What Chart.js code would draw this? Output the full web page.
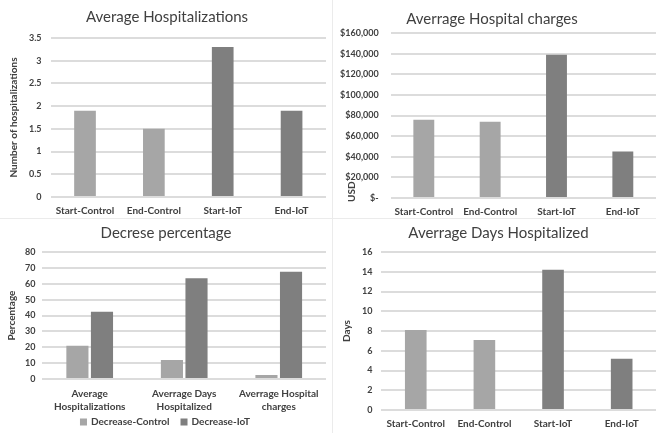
<!DOCTYPE html>
<html>
<head>
<meta charset="utf-8">
<script src="https://cdn.jsdelivr.net/npm/chart.js@4.4.1/dist/chart.umd.min.js"></script>
<style>
    html, body { margin: 0; padding: 0; background: #fff; }
    body { width: 656px; height: 433px; position: relative; overflow: hidden; }
    .panel { position: absolute; }
    .panel canvas { display: block; }
    .line-v { position: absolute; left: 332px; top: 0; width: 1px; height: 433px; background: #ebebeb; }
    .line-h { position: absolute; left: 0; top: 218px; width: 656px; height: 1px; background: #ebebeb; }
</style>
</head>
<body>
<div class="line-v"></div>
<div class="line-h"></div>
<div class="panel" style="left:0;top:0;width:330px;height:217px"><canvas id="hospChart"></canvas></div>
<div class="panel" style="left:333px;top:0;width:323px;height:217px"><canvas id="chargeChart"></canvas></div>
<div class="panel" style="left:0;top:220px;width:330px;height:213px"><canvas id="pctChart"></canvas></div>
<div class="panel" style="left:333px;top:220px;width:323px;height:213px"><canvas id="daysChart"></canvas></div>

<script>
// === DATA ===
const phases = ["Start-Control", "End-Control", "Start-IoT", "End-IoT"];
const avgHospitalizations = [1.9, 1.5, 3.3, 1.9];
const avgCharges = [76000, 74000, 139000, 45000];
const avgDays = [8.1, 7.1, 14.2, 5.2];

const pctCategories = [
    ["Average", "Hospitalizations"],
    ["Averrage Days", "Hospitalized"],
    ["Averrage Hospital", "charges"]
];
const decreaseControl = [21, 12, 2.5];
const decreaseIoT = [42.4, 63.4, 67.6];

const chargeTicks = ["$-", "$20,000", "$40,000", "$60,000", "$80,000", "$100,000", "$120,000", "$140,000", "$160,000"];

// === STYLE ===
const LIGHT = "#a6a6a6";
const DARK = "#7f7f7f";
const TEXT = "#404040";
const GRID = "#dcdcdc";
const FONT = "Lato, 'Open Sans', sans-serif";
const phaseColors = [LIGHT, LIGHT, DARK, DARK];

Chart.defaults.font.family = FONT;
Chart.defaults.color = TEXT;
Chart.defaults.animation = false;

function baseOptions(title, yTitle, yMax, yStep, padding) {
    return {
        responsive: true,
        maintainAspectRatio: false,
        layout: { padding: padding },
        plugins: {
            legend: { display: false },
            tooltip: { enabled: false },
            title: {
                display: true,
                text: title,
                color: TEXT,
                font: { size: 15, weight: "normal" },
                padding: { top: 8, bottom: 12 },
            },
        },
        scales: {
            x: {
                grid: { display: false, drawTicks: false },
                border: { display: false },
                ticks: { color: TEXT, font: { size: 10, weight: "bold" }, padding: 8, maxRotation: 0, autoSkip: false },
            },
            y: {
                min: 0,
                max: yMax,
                border: { display: false },
                grid: { color: GRID, lineWidth: 2, drawTicks: false },
                ticks: {
                    stepSize: yStep,
                    autoSkip: false,
                    color: TEXT,
                    font: { size: 9, weight: "bold" },
                    padding: 12,
                    callback: (val) => String(val),
                },
                title: {
                    display: true,
                    text: yTitle,
                    color: TEXT,
                    font: { size: 10, weight: "bold" },
                    padding: { top: 0, bottom: 0 },
                },
            },
        },
    };
}

// "USD" sits low on the axis, next to the zero label
const usdLabel = {
    id: "usdLabel",
    afterDraw(chart) {
        const { ctx, chartArea } = chart;
        ctx.save();
        ctx.translate(chartArea.left - 39, chartArea.bottom + 4);
        ctx.rotate(-Math.PI / 2);
        ctx.fillStyle = TEXT;
        ctx.font = "bold 10px " + FONT;
        ctx.textAlign = "left";
        ctx.textBaseline = "middle";
        ctx.fillText("USD", 0, 0);
        ctx.restore();
    },
};

// compact legend row along the bottom edge (swatch + label per dataset)
const bottomLegend = {
    id: "bottomLegend",
    afterDraw(chart) {
        const { ctx } = chart;
        const sets = chart.data.datasets;
        const box = 7, gap = 4, spacing = 11;
        ctx.save();
        ctx.font = "bold 10px " + FONT;
        ctx.textBaseline = "middle";
        const widths = sets.map((ds) => box + gap + ctx.measureText(ds.label).width);
        const total = widths.reduce((a, b) => a + b, 0) + spacing * (sets.length - 1);
        let x = (chart.width - total) / 2;
        const y = chart.height - 11;
        sets.forEach((ds, i) => {
            ctx.fillStyle = ds.backgroundColor;
            ctx.fillRect(x, y - box / 2, box, box);
            ctx.fillStyle = TEXT;
            ctx.fillText(ds.label, x + box + gap, y);
            x += widths[i] + spacing;
        });
        ctx.restore();
    },
};

// === 1. Average Hospitalizations ===
const hospOpts = baseOptions("Average Hospitalizations", "Number of hospitalizations", 3.5, 0.5,
    { left: 8, right: 4, bottom: -8 });
hospOpts.scales.y.ticks.padding = 9;

new Chart(document.getElementById("hospChart"), {
    type: "bar",
    data: {
        labels: phases,
        datasets: [{
            data: avgHospitalizations,
            backgroundColor: phaseColors,
            categoryPercentage: 0.63,
            barPercentage: 0.5,
        }],
    },
    options: hospOpts,
});

// === 2. Averrage Hospital charges ===
const chargeOpts = baseOptions("Averrage Hospital charges", "USD", 160000, 20000,
    { left: -5, right: 0, bottom: -9 });
chargeOpts.plugins.title.padding = { top: 10, bottom: 5 };
chargeOpts.scales.y.title.display = false;
chargeOpts.scales.y.ticks.callback = (val, idx) => chargeTicks[idx];

new Chart(document.getElementById("chargeChart"), {
    type: "bar",
    data: {
        labels: phases,
        datasets: [{
            data: avgCharges,
            backgroundColor: phaseColors,
            categoryPercentage: 0.63,
            barPercentage: 0.5,
        }],
    },
    options: chargeOpts,
    plugins: [usdLabel],
});

// === 3. Decrese percentage ===
const pctOpts = baseOptions("Decrese percentage", "Percentage", 80, 10,
    { left: 6, right: 4, bottom: 12 });
pctOpts.plugins.title.padding = { top: 4, bottom: 10 };
pctOpts.scales.y.ticks.padding = 7;
pctOpts.scales.x.ticks.font = { size: 10, weight: "bold", lineHeight: 1.3 };

new Chart(document.getElementById("pctChart"), {
    type: "bar",
    data: {
        labels: pctCategories,
        datasets: [
            { label: "Decrease-Control", data: decreaseControl, backgroundColor: LIGHT, categoryPercentage: 0.52, barPercentage: 0.9 },
            { label: "Decrease-IoT", data: decreaseIoT, backgroundColor: DARK, categoryPercentage: 0.52, barPercentage: 0.9 },
        ],
    },
    options: pctOpts,
    plugins: [bottomLegend],
});

// === 4. Averrage Days Hospitalized ===
const daysOpts = baseOptions("Averrage Days Hospitalized", "Days", 16, 2,
    { left: 8, right: 0, bottom: -5 });
daysOpts.plugins.title.padding = { top: 4, bottom: 10 };
daysOpts.scales.y.ticks.padding = 9;

new Chart(document.getElementById("daysChart"), {
    type: "bar",
    data: {
        labels: phases,
        datasets: [{
            data: avgDays,
            backgroundColor: phaseColors,
            categoryPercentage: 0.63,
            barPercentage: 0.5,
        }],
    },
    options: daysOpts,
});
</script>
</body>
</html>
